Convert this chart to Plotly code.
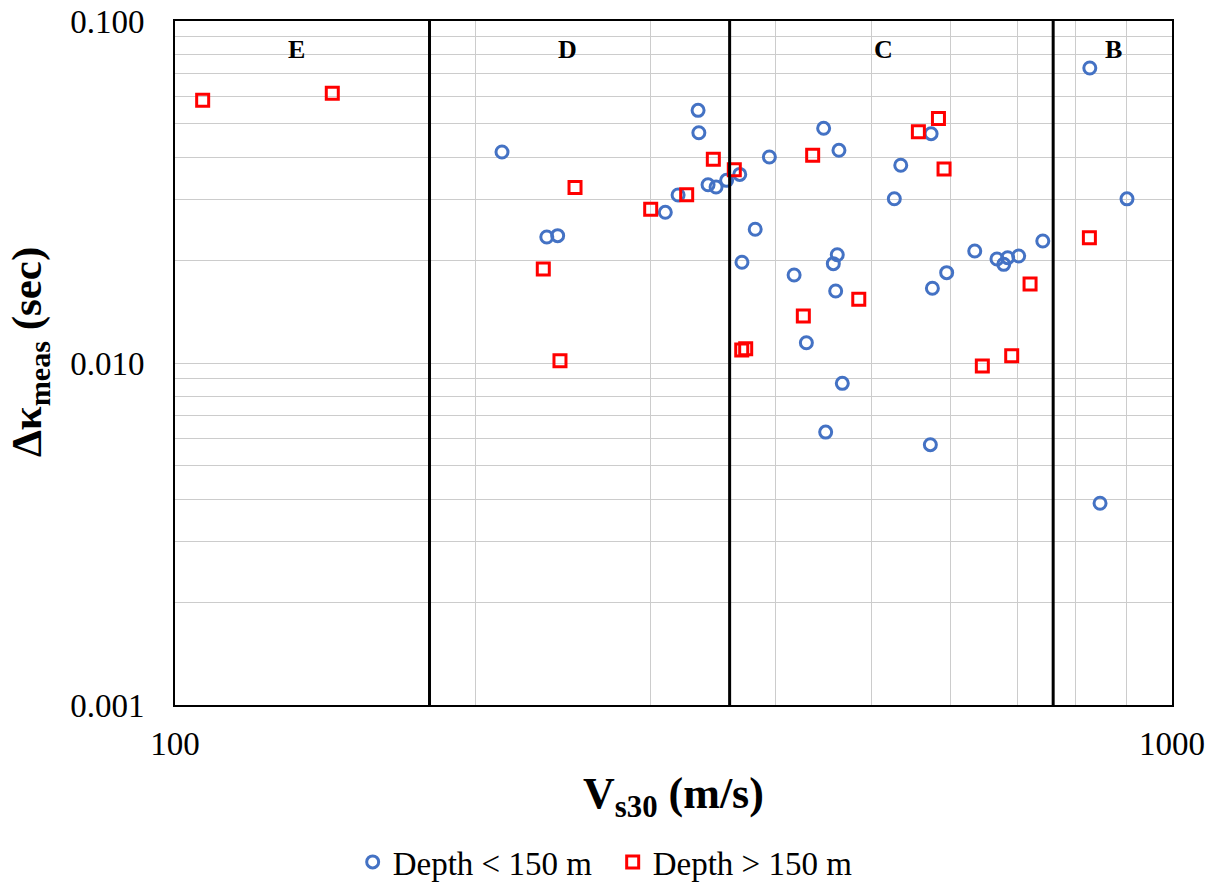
import plotly.graph_objects as go

# Depth < 150 m (blue circles)
vs30_shallow = [212.8, 236.0, 242.0, 310.3, 319.6, 334.7, 335.3, 342.5, 348.9, 357.5,
                368.5, 394.6, 381.9, 370.4, 417.8, 447.3, 463.4, 461.6, 457.4, 459.9,
                429.8, 467.0, 449.4, 526.6, 534.5, 573.3, 575.0, 594.3, 572.3, 634.1,
                667.5, 678.0, 684.2, 701.8, 742.0, 827.1, 901.3, 846.9]
dk_shallow = [0.0414, 0.02336, 0.02357, 0.02758, 0.03098, 0.0548, 0.04714, 0.0332, 0.0327, 0.0342,
              0.0356, 0.04003, 0.0246, 0.0197, 0.01808, 0.04855, 0.04187, 0.02073, 0.01952, 0.01624,
              0.01146, 0.00872, 0.00628, 0.03022, 0.03785, 0.04683, 0.01654, 0.01837, 0.00577, 0.02126,
              0.02014, 0.01943, 0.02032, 0.02056, 0.02274, 0.0729, 0.0302, 0.00389]

# Depth > 150 m (red squares)
vs30_deep = [106.6, 143.8, 251.9, 234.1, 243.3, 300.0, 326.0, 346.7, 363.9, 370.2,
             373.6, 436.1, 426.8, 485.1, 556.7, 583.1, 590.7, 645.3, 690.6, 720.5, 826.3]
dk_deep = [0.0587, 0.0615, 0.0326, 0.01883, 0.01016, 0.02814, 0.03105, 0.0394, 0.03674, 0.01092,
           0.01101, 0.0405, 0.01372, 0.01535, 0.04745, 0.0519, 0.03692, 0.0098, 0.0105, 0.01702, 0.02325]

site_class_bounds = [180, 360, 760]
site_class_labels = ["E", "D", "C", "B"]
site_class_label_pos = [0.1214, 0.394, 0.711, 0.941]

x_tickvals = [100, 200, 300, 400, 500, 600, 700, 800, 900, 1000]
x_ticktext = ["100", "", "", "", "", "", "", "", "", "1000"]
y_tickvals = [m * 10 ** e for e in (-3, -2) for m in range(1, 10)] + [0.1]
y_ticktext = ["0.001" if v == 0.001 else "0.010" if v == 0.01 else "0.100" if v == 0.1 else ""
              for v in y_tickvals]

FONT = "Liberation Serif, Times New Roman, serif"

fig = go.Figure()
fig.add_trace(go.Scatter(
    x=vs30_shallow, y=dk_shallow, mode="markers", name="Depth < 150 m",
    marker=dict(symbol="circle-open", size=12, color="#4472C4", line=dict(width=3, color="#4472C4")),
))
fig.add_trace(go.Scatter(
    x=vs30_deep, y=dk_deep, mode="markers", name="Depth > 150 m",
    marker=dict(symbol="square-open", size=12, color="#FF0000", line=dict(width=3, color="#FF0000")),
))

for b in site_class_bounds:
    fig.add_shape(type="line", xref="x", yref="paper", x0=b, x1=b, y0=0, y1=1,
                  line=dict(color="black", width=3))

for lab, px in zip(site_class_labels, site_class_label_pos):
    fig.add_annotation(text=f"<b>{lab}</b>", xref="paper", yref="paper", x=px, y=0.959,
                       showarrow=False, font=dict(family=FONT, size=26, color="black"),
                       xanchor="center", yanchor="middle")

fig.add_annotation(text="<b>V<sub>s30</sub> (m/s)</b>", xref="paper", yref="paper",
                   x=0.5, y=-0.134, showarrow=False, xanchor="center", yanchor="middle",
                   font=dict(family=FONT, size=44, color="black"))
fig.add_annotation(text="<b>Δκ<sub>meas</sub> (sec)</b>", xref="paper", yref="paper",
                   x=-0.1454, y=0.516, showarrow=False, xanchor="center", yanchor="middle",
                   textangle=-90, font=dict(family=FONT, size=43, color="black"))

fig.update_xaxes(type="log", range=[2, 3], tickvals=x_tickvals, ticktext=x_ticktext,
                 showgrid=True, gridcolor="#cccccc", gridwidth=1,
                 showline=True, linecolor="black", linewidth=2, mirror=True,
                 ticks="", ticklabelstandoff=8, zeroline=False, automargin=False,
                 tickfont=dict(family=FONT, size=33, color="black"))
fig.update_yaxes(type="log", range=[-3, -1], tickvals=y_tickvals, ticktext=y_ticktext,
                 showgrid=True, gridcolor="#cccccc", gridwidth=1,
                 showline=True, linecolor="black", linewidth=2, mirror=True,
                 ticks="", ticklabelstandoff=22, zeroline=False, automargin=False,
                 ticklabeloverflow="allow",
                 tickfont=dict(family=FONT, size=33, color="black"))

fig.update_layout(
    width=1218, height=886,
    margin=dict(l=175, r=46, t=21, b=181, autoexpand=False),
    paper_bgcolor="white", plot_bgcolor="white",
    showlegend=True,
    legend=dict(orientation="h", x=0.439, y=-0.2295, xanchor="center", yanchor="middle",
                font=dict(family=FONT, size=33, color="black"), itemwidth=30,
                entrywidth=215, entrywidthmode="pixels",
                bgcolor="rgba(0,0,0,0)"),
)

fig.write_html("out.html", config={"displayModeBar": False},
               post_script="document.body.style.margin='0';")
